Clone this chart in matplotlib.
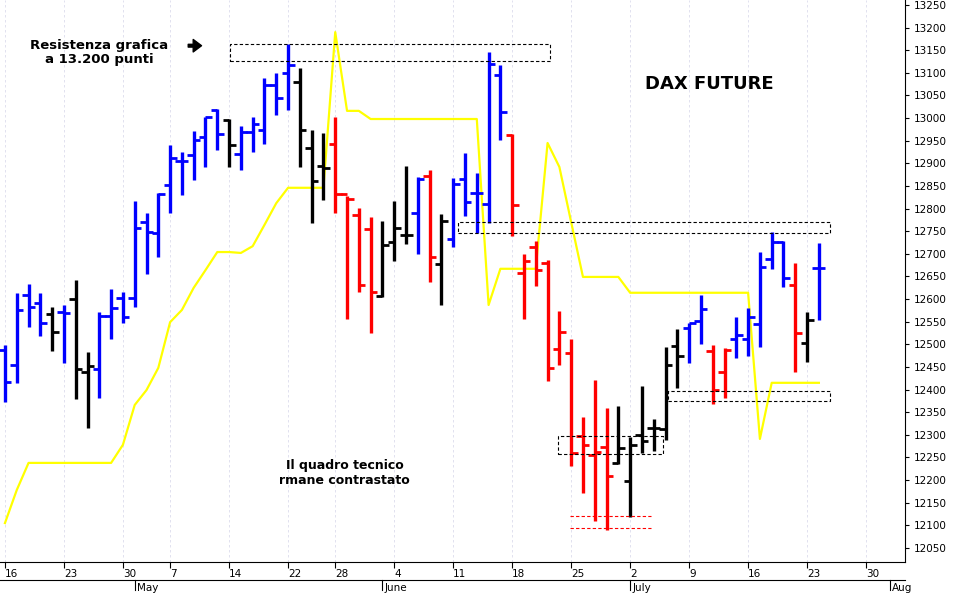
import numpy as np
import pandas as pd
import matplotlib
matplotlib.use('Agg')
import matplotlib.pyplot as plt
from matplotlib.transforms import blended_transform_factory

# trading days (Apr 16 - Jul 24 2018, no May 1 / May 21)
dates = pd.bdate_range('2018-04-16', '2018-08-03')
dates = dates[~dates.isin(pd.to_datetime(['2018-05-01', '2018-05-21']))]
n_bars = 70

opens = [12488, 12454, 12609, 12591, 12567, 12572, 12600, 12439, 12446, 12563,
         12602, 12602, 12770, 12746, 12852, 12905, 12918, 12958, 13018, 12996,
         12921, 12969, 12974, 13073, 13100, 13080, 12934, 12894, 12943, 12832,
         12786, 12755, 12607, 12726, 12742, 12790, 12872, 12678, 12733, 12865,
         12835, 12810, 13095, 12963, 12658, 12715, 12680, 12490, 12481, 12297,
         12256, 12273, 12238, 12198, 12300, 12315, 12313, 12496, 12536, 12552,
         12485, 12439, 12512, 12512, 12545, 12689, 12726, 12631, 12503, 12669]
highs = [12499, 12614, 12633, 12614, 12583, 12587, 12642, 12483, 12572, 12622,
         12616, 12817, 12790, 12835, 12941, 12925, 12972, 13003, 13020, 12998,
         12983, 13003, 13088, 13100, 13164, 13111, 12974, 12967, 13003, 12828,
         12801, 12781, 12773, 12817, 12894, 12870, 12885, 12788, 12867, 12923,
         12879, 13146, 13117, 12965, 12700, 12728, 12686, 12574, 12512, 12339,
         12421, 12359, 12364, 12295, 12408, 12335, 12494, 12534, 12547, 12609,
         12499, 12492, 12561, 12580, 12704, 12748, 12728, 12680, 12572, 12724]
lows = [12373, 12415, 12538, 12518, 12485, 12459, 12379, 12315, 12381, 12512,
        12547, 12583, 12656, 12693, 12790, 12830, 12863, 12892, 12930, 12892,
        12885, 12925, 12943, 13007, 13018, 12892, 12768, 12819, 12790, 12556,
        12616, 12525, 12605, 12684, 12722, 12700, 12638, 12587, 12715, 12784,
        12746, 12768, 12952, 12739, 12556, 12629, 12419, 12454, 12231, 12172,
        12110, 12090, 12236, 12118, 12260, 12264, 12289, 12404, 12459, 12501,
        12368, 12381, 12470, 12474, 12494, 12666, 12627, 12439, 12461, 12554]
closes = [12417, 12576, 12583, 12547, 12527, 12569, 12446, 12452, 12563, 12580,
          12561, 12757, 12748, 12832, 12912, 12905, 12952, 13003, 12965, 12941,
          12969, 12987, 13073, 13044, 13117, 12974, 12861, 12890, 12832, 12821,
          12631, 12616, 12720, 12757, 12742, 12865, 12693, 12773, 12854, 12815,
          12835, 13120, 13014, 12808, 12684, 12664, 12448, 12527, 12260, 12278,
          12262, 12209, 12271, 12278, 12286, 12315, 12454, 12474, 12547, 12578,
          12399, 12488, 12521, 12561, 12671, 12726, 12647, 12525, 12554, 12669]
# b = blue, k = black, r = red
bar_colors = list('bbbbkbkkbbbbbbbbbbbk' 'bbbbbkkkrrrrkkkbrkbb'
                  'bbbrrrrrrrrrkkkkkkbb' 'rrbbbbbrkb')
indicator = ([12105, 12178] + [12238] * 8 +
             [12278, 12366, 12399, 12448, 12549, 12576, 12625, 12664, 12704, 12704,
              12702, 12717, 12764, 12812, 12846, 12846, 12846, 12846, 13190, 13016,
              13016] + [12998] * 10 +
             [12587, 12667, 12667, 12667, 12667, 12945, 12892, 12770] + [12649] * 4 +
             [12614] * 11 + [12291] + [12415] * 5)

# dashed boxes: (x_start, x_end, low, high) in bar index
boxes = [(19.1, 46.2, 13126, 13164), (38.4, 69.9, 12746, 12770),
         (46.9, 55.8, 12258, 12297), (56.2, 69.9, 12375, 12397)]
support_lines = [12121, 12094]

fig = plt.figure(figsize=(9.57, 5.94), dpi=100)
ax = fig.add_axes([0, 32 / 594, 905 / 957, 562 / 594])
x = np.arange(n_bars)
cmap = {'b': '#0000ff', 'k': 'black', 'r': '#ff0000'}
cols = [cmap[c] for c in bar_colors]

ax.vlines(x, lows, highs, colors=cols, lw=2.4)
ax.hlines(opens, x - 0.55, x, colors=cols, lw=2.0)
ax.hlines(closes, x, x + 0.55, colors=cols, lw=2.0)
ax.plot(x, indicator, color='#ffff00', lw=1.6, zorder=1)

for x0, x1, lo, hi in boxes:
    ax.plot([x0, x1, x1, x0, x0], [lo, lo, hi, hi, lo], color='black', ls=(0, (3, 2)), lw=0.8)
for lvl in support_lines:
    ax.plot([47.9, 54.8], [lvl, lvl], color='red', ls=(0, (3, 2)), lw=0.8)

# weekly grid on mondays
mondays = [i for i, d in enumerate(dates) if d.weekday() == 0 or (d.month == 5 and d.day == 22)]
for i in mondays:
    ax.axvline(i, color='#dcdcec', ls=(0, (3, 3)), lw=0.6, zorder=0)
ax.set_xticks(mondays)
ax.set_xticklabels([str(dates[i].day) for i in mondays], ha='left', fontsize=7.5)
ax.tick_params(axis='x', length=4, pad=1)

ax.set_xlim(-0.42, 76.3)
ax.set_ylim(12019, 13261)
ax.yaxis.tick_right()
ax.set_yticks(np.arange(12050, 13251, 50))
ax.tick_params(axis='y', labelsize=7.5, length=3, pad=3)
ax.spines['top'].set_visible(False)
ax.spines['left'].set_visible(False)

# month row
trans = blended_transform_factory(ax.transData, fig.transFigure)
fig.add_artist(plt.Line2D([0, 905 / 957], [14 / 594, 14 / 594], color='black', lw=0.8))
month_starts = [('May', 11), ('June', 32), ('July', 53), ('Aug', 75)]
for name, i in month_starts:
    ax.plot([i, i], [4 / 594, 14 / 594], color='black', lw=0.8, transform=trans, clip_on=False)
    ax.text(i + 0.2, 1 / 594, name, transform=trans, fontsize=7.5, va='bottom', ha='left')

ax.text(8.0, 13145, 'Resistenza grafica\na 13.200 punti', ha='center', va='center',
        fontsize=9.5, fontweight='bold', linespacing=1.1)
ax.annotate('', xy=(16.9, 13160), xytext=(15.3, 13160),
            arrowprops=dict(arrowstyle='simple,head_width=0.9,head_length=0.6', color='black'))
ax.text(59.7, 13075, 'DAX FUTURE', ha='center', va='center', fontsize=13, fontweight='bold')
ax.text(28.8, 12215, 'Il quadro tecnico\nrmane contrastato', ha='center', va='center',
        fontsize=9, fontweight='bold', linespacing=1.2)

fig.savefig('out.png', dpi=100)
